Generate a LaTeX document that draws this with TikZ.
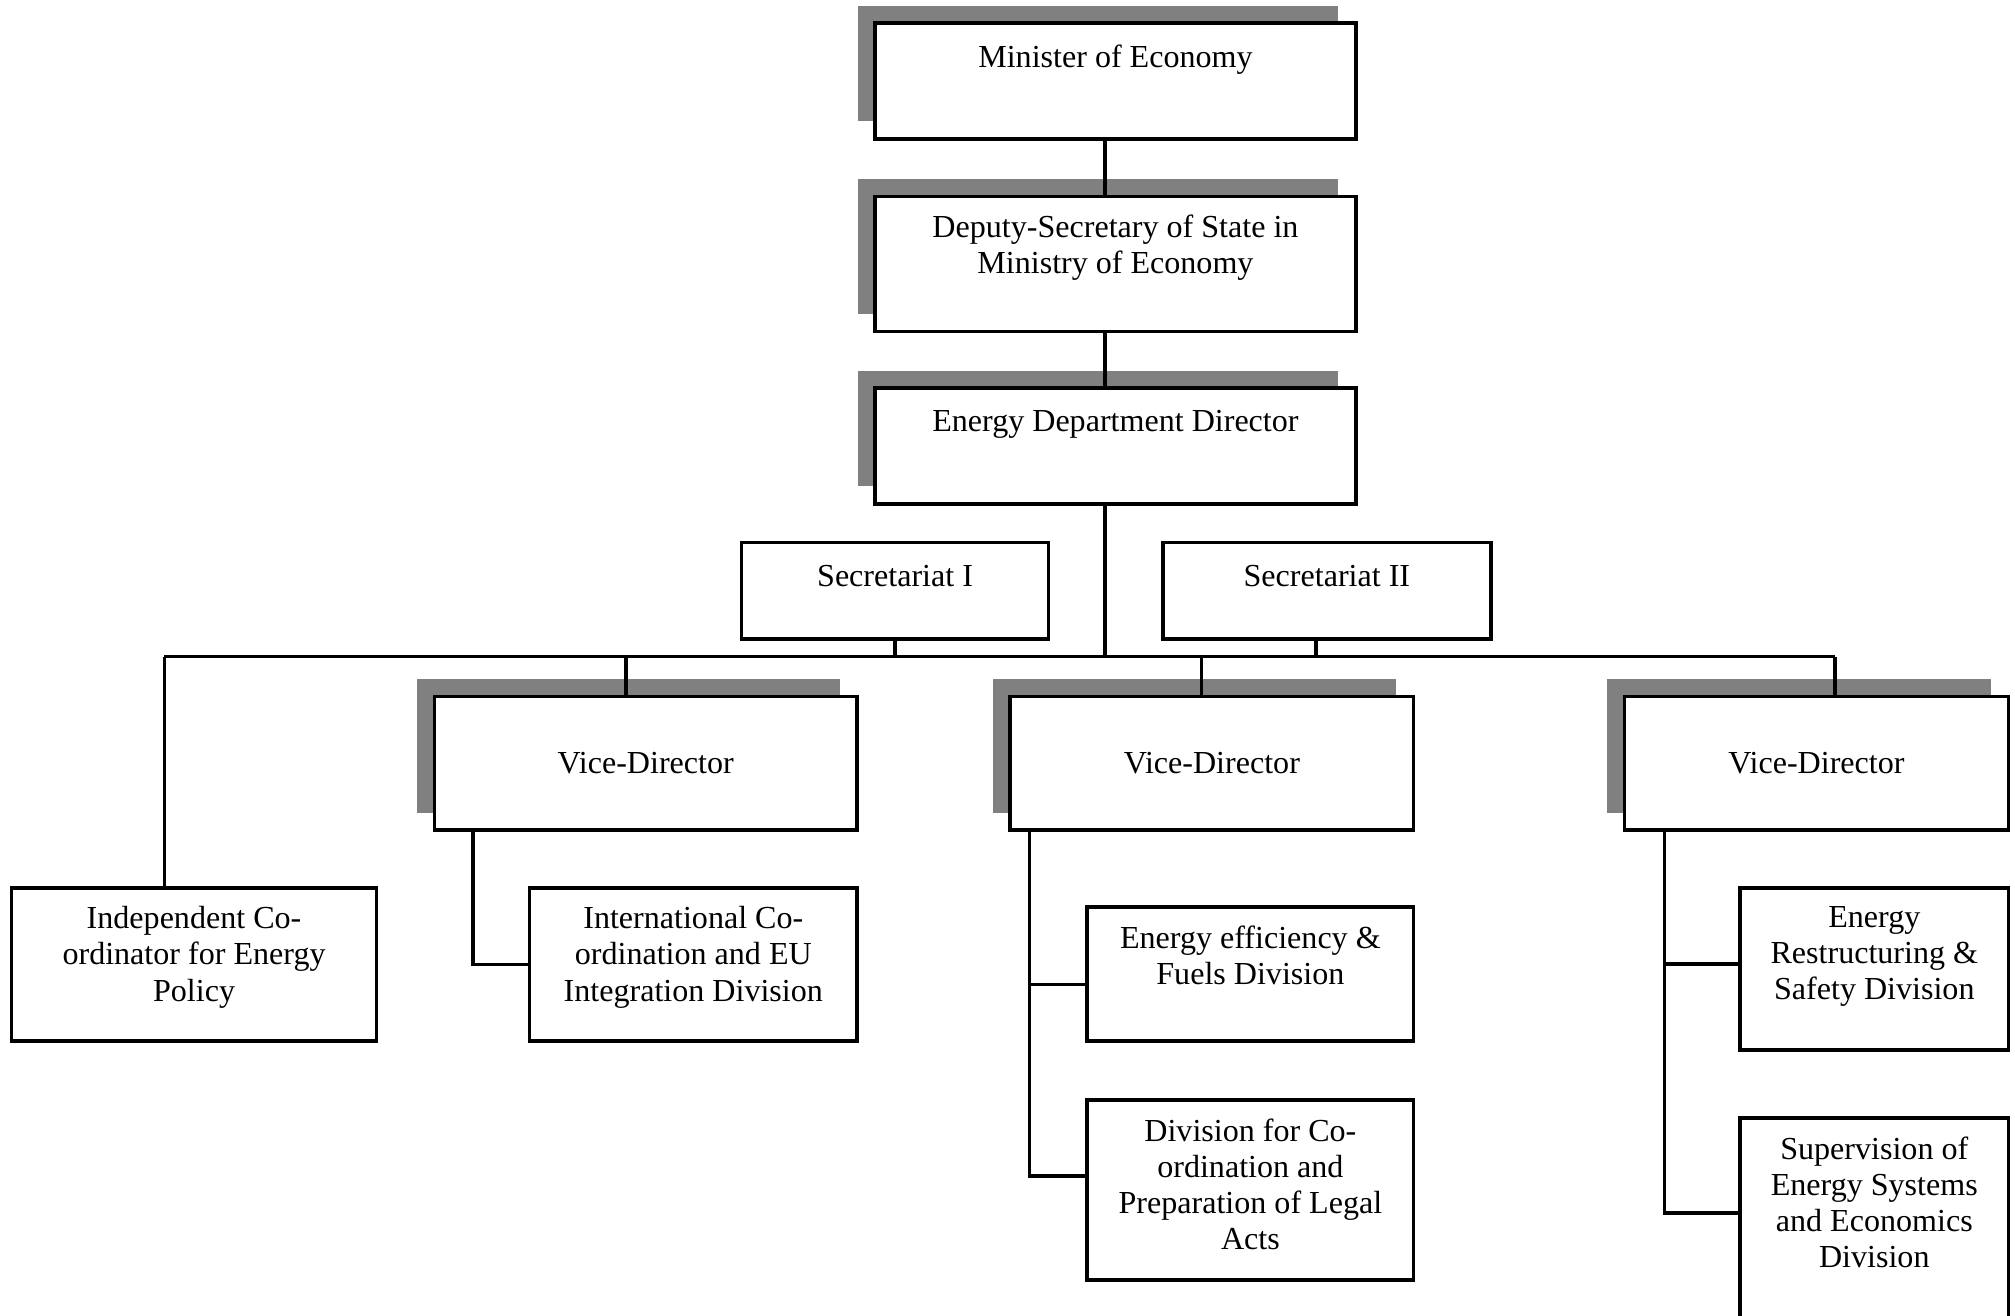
\documentclass[tikz,border=0pt]{standalone}
\usepackage{fontspec}
\setmainfont{Liberation Serif}
\usetikzlibrary{positioning,shadows}
\definecolor{shadowgray}{RGB}{128,128,128}

\begin{document}
\begin{tikzpicture}[x=1cm, y=-1cm,
	fnt/.style={font=\fontsize{14.2}{16}\selectfont},
	box/.style={draw, fill=white, line width=1.6pt, inner sep=0pt},
	shbox/.style={box, drop shadow={shadow xshift=-0.27cm, shadow yshift=0.27cm, fill=shadowgray, opacity=1}},
	txt/.style={fnt, align=center, inner sep=0pt, execute at begin node=\strut},
	link/.style={line width=1.5pt}]
		
		\clip (0,0) rectangle (31.36,20.48);
		
		% --- top of the chain ---
		\node[shbox, minimum width=7.48cm, minimum height=1.80cm] (minister) at (17.36,1.26) {};
		\node[txt, below=0.31cm of minister.north] (tminister) {Minister of Economy};
		
		\node[shbox, minimum width=7.48cm, minimum height=2.10cm] (deputy) at (17.36,4.11) {};
		\node[txt, below=0.31cm of deputy.north] (tdeputy) {Deputy-Secretary of State in\\Ministry of Economy};
		
		\node[shbox, minimum width=7.48cm, minimum height=1.80cm] (director) at (17.36,6.94) {};
		\node[txt, below=0.31cm of director.north] (tdirector) {Energy Department Director};
		
		% --- secretariats ---
		\node[box, minimum width=4.78cm, minimum height=1.50cm] (sec1) at (13.93,9.19) {};
		\node[txt, below=0.31cm of sec1.north] (tsec1) {Secretariat I};
		
		\node[box, minimum width=5.10cm, minimum height=1.50cm] (sec2) at (20.65,9.19) {};
		\node[txt, below=0.31cm of sec2.north] (tsec2) {Secretariat II};
		
		% --- vice-directors ---
		\node[shbox, fnt, minimum width=6.58cm, minimum height=2.08cm] (vd1) at (10.05,11.88) {Vice-Director};
		\node[shbox, fnt, minimum width=6.28cm, minimum height=2.08cm] (vd2) at (18.86,11.88) {Vice-Director};
		\node[shbox, fnt, minimum width=5.98cm, minimum height=2.08cm] (vd3) at (28.27,11.88) {Vice-Director};
		
		% --- divisions ---
		\node[box, minimum width=5.68cm, minimum height=2.38cm] (indep) at (3.02,15.01) {};
		\node[txt, below=0.31cm of indep.north] (tindep) {Independent Co-\\ordinator for Energy\\Policy};
		
		\node[box, minimum width=5.10cm, minimum height=2.38cm] (intl) at (10.79,15.01) {};
		\node[txt, below=0.31cm of intl.north] (tintl) {International Co-\\ordination and EU\\Integration Division};
		
		\node[box, minimum width=5.08cm, minimum height=2.08cm] (ee) at (19.46,15.16) {};
		\node[txt, below=0.31cm of ee.north] (tee) {Energy efficiency \&\\Fuels Division};
		
		\node[box, minimum width=5.08cm, minimum height=2.80cm] (div) at (19.46,18.52) {};
		\node[txt, below=0.31cm of div.north] (tdiv) {Division for Co-\\ordination and\\Preparation of Legal\\Acts};
		
		\node[box, minimum width=4.18cm, minimum height=2.52cm] (er) at (29.17,15.08) {};
		\node[txt, below=0.31cm of er.north] (ter) {Energy\\Restructuring \&\\Safety Division};
		
		\node[box, minimum width=4.18cm, minimum height=3.40cm] (sup) at (29.17,19.10) {};
		\node[txt, below=0.31cm of sup.north] (tsup) {Supervision of\\Energy Systems\\and Economics\\Division};
		
		% --- spine and bus ---
		\coordinate (spine) at (17.20,10.22);
		\coordinate (busL) at (2.56,10.22);
		\coordinate (busR) at (28.56,10.22);
		\coordinate (b1) at (9.74,10.22);
		\coordinate (b2) at (18.70,10.22);
		\coordinate (bs2) at (20.48,10.22);
		
		\draw[link] (minister.south -| spine) -- (deputy.north -| spine);
		\draw[link] (deputy.south -| spine) -- (director.north -| spine);
		\draw[link] (director.south -| spine) -- (spine);
		\draw[link] (busL) -- (busR);
		\draw[link] (sec1.south) -- (sec1.south |- spine);
		\draw[link] (sec2.south -| bs2) -- (bs2);
		\draw[link] (busL) -- (indep.north -| busL);
		\draw[link] (b1) -- (vd1.north -| b1);
		\draw[link] (b2) -- (vd2.north -| b2);
		\draw[link] (busR) -- (vd3.north -| busR);
		
		% --- below the vice-directors ---
		\coordinate (s1) at (7.36,15);
		\coordinate (s2) at (16.02,15);
		\coordinate (s3) at (25.90,15);
		
		\draw[link] (vd1.south -| s1) |- (intl.west);
		\draw[link] (vd2.south -| s2) |- ([yshift=-0.16cm]ee.west);
		\draw[link] (vd2.south -| s2) |- ([yshift=0.22cm]div.west);
		\draw[link] (vd3.south -| s3) |- ([yshift=0.08cm]er.west);
		\draw[link] (vd3.south -| s3) |- ([yshift=0.22cm]sup.west);
		
	\end{tikzpicture}
\end{document}
